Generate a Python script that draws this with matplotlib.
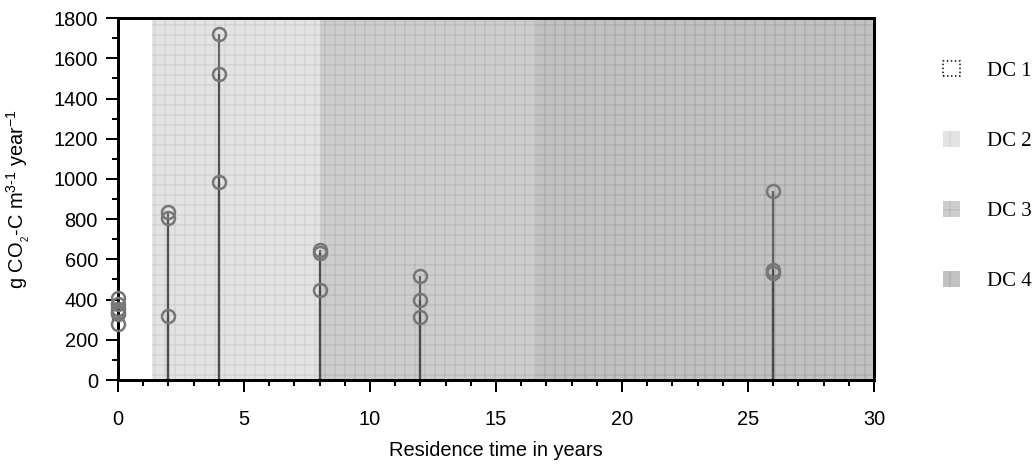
import numpy as np
import matplotlib.pyplot as plt
from matplotlib.patches import Patch

plt.rcParams['font.family'] = ['Liberation Sans', 'DejaVu Sans']
plt.rcParams['mathtext.fontset'] = 'custom'
plt.rcParams['mathtext.rm'] = 'Liberation Sans'
plt.rcParams['mathtext.it'] = 'Liberation Sans'
plt.rcParams['hatch.linewidth'] = 0.6

# residence time (years) and CO2 release per sample
x_years = [0, 0, 0, 0, 0, 0,
           2, 2, 2,
           4, 4, 4,
           8, 8, 8,
           12, 12, 12,
           26, 26, 26]
co2 = [410, 380, 355, 340, 330, 280,
       834, 804, 318,
       1723, 1524, 983,
       645, 630, 447,
       516, 397, 313,
       940, 545, 530]

# decomposition classes: boundaries in years
dc_labels = ['DC 1', 'DC 2', 'DC 3', 'DC 4']
dc_start = [0, 1.35, 8.0, 16.6]
dc_end = [1.35, 8.0, 16.6, 30]
dc_face = ['white', '#e3e3e3', '#cdcdcd', '#c2c2c2']
dc_hatch = ['white', '#cfcfcf', '#b6b6b6', '#a8a8a8']

fig = plt.figure(figsize=(1035/120, 464/120), dpi=120)
ax = fig.add_axes([0.114, 0.181, 0.7305, 0.78])

for i in range(1, 4):
    ax.axvspan(dc_start[i], dc_end[i], facecolor=dc_face[i], edgecolor=dc_hatch[i],
               hatch='++', lw=0, zorder=0)

# one stem per sample, overlapping stems get darker
ax.vlines(x_years, 0, co2, color='#4a4a4a', lw=1.3, alpha=0.8, zorder=2)
ax.plot(x_years, co2, 'o', mfc='none', mec='#777777', mew=1.5, ms=7.8, zorder=3,
        clip_on=False)

ax.set_xlim(0, 30)
ax.set_ylim(0, 1800)
ax.set_xticks(np.arange(0, 31, 5))
ax.set_xticks(np.arange(0, 31, 1), minor=True)
ax.set_yticks(np.arange(0, 1801, 200))
ax.set_yticks(np.arange(0, 1801, 100), minor=True)
ax.tick_params(which='major', direction='out', length=7, width=1.2, labelsize=12)
ax.tick_params(which='minor', direction='out', length=3.8, width=1.2)
ax.tick_params(axis='x', which='major', pad=11)
ax.tick_params(axis='y', which='major', pad=5)
for s in ['left', 'top', 'right', 'bottom']:
    ax.spines[s].set_linewidth(1.8)

ax.set_xlabel('Residence time in years', fontsize=12, labelpad=7)
ax.set_ylabel(r'g CO$_{\mathregular{_2}}$-C m$^{3\text{-}1}$ year$^{-1}$', fontsize=12,
              labelpad=13)

handles = [Patch(facecolor='white', edgecolor='black', linestyle=':', lw=0.9)]
for i in range(1, 4):
    handles.append(Patch(facecolor=dc_face[i], edgecolor=dc_hatch[i], hatch='+', lw=0))
leg = fig.legend(handles, dc_labels, loc='upper left', bbox_to_anchor=(0.893, 0.91),
                 frameon=False, prop={'family': 'Liberation Serif', 'size': 12.5},
                 handlelength=0.8, handleheight=0.8, labelspacing=2.4, handletextpad=1.3)

fig.savefig('out.png', dpi=120)
